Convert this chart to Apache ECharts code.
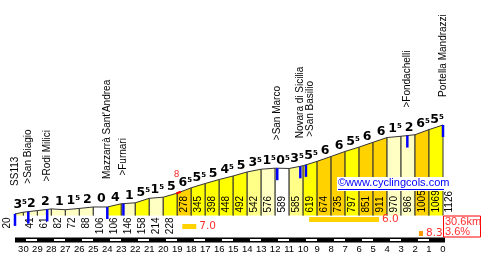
<!DOCTYPE html>
<html>
<head>
<meta charset="utf-8">
<script src="https://cdn.jsdelivr.net/npm/echarts@6/dist/echarts.min.js"></script>
<style>
html, body { margin: 0; padding: 0; background: #fff; }
#container { width: 482px; height: 255px; }
</style>
</head>
<body>
<div id="container"></div>
<script>
// km to the top at each point of the profile, and the height there
var kmMarks = [30.6, 30, 29, 28, 27, 26, 25, 24, 23, 22, 21, 20, 19, 18, 17, 16, 15, 14, 13, 12, 11, 10, 9, 8, 7, 6, 5, 4, 3, 2, 1, 0];
var elevations = [20, 41, 61, 82, 72, 88, 106, 106, 146, 158, 214, 228, 278, 345, 398, 448, 492, 542, 576, 589, 585, 619, 674, 735, 797, 851, 911, 970, 986, 1005, 1069, 1126];
// printed gradient of each km
var grades = [3.5, 2, 2, 1, 1.5, 2, 0, 4, 1, 5.5, 1.5, 5, 6.5, 5.5, 5, 4.5, 5, 3.5, 1.5, 0.5, 3.5, 5.5, 6, 6, 5.5, 6, 6, 1.5, 2, 6.5, 5.5];

// places along the road
var places = ['SS113', '>San Biagio', '>Rodi Milici', 'Mazzarrà Sant\'Andrea', '>Furnari', '>San Marco', 'Novara di Sicilia', '>San Basilio', '>Fondachelli', 'Portella Mandrazzi'];
var placeKms = [30.6, 29.65, 28.3, 24.0, 22.85, 11.85, 10.2, 9.8, 2.55, 0];

// steepest stretches (bars under the profile)
var steepFrom = [9.57, 18.64, 1.72];
var steepTo = [4.57, 17.64, 1.43];
var steepGrades = [6.0, 7.0, 8.3];

// steepest 100 m
var maxFrom = 19.07, maxTo = 18.75, maxGrade = 8;

var FONT = 'DejaVu Sans';
var SANS = 'Liberation Sans';
var RED = '#ff3030';

var myChart = echarts.init(document.getElementById('container'));

function gradeColor(g) {
    if (g < 1) return '#ffffff';
    if (g < 3) return '#ffffc4';
    if (g < 4) return '#ffff88';
    if (g < 6) return '#ffff00';
    if (g < 8) return '#ffd200';
    return '#ff9900';
}

// height on the profile at a given km (to put marks on the line)
function elevAt(km) {
    for (var i = 0; i < kmMarks.length - 1; i++) {
        if (km <= kmMarks[i] && km >= kmMarks[i + 1]) {
            var t = (kmMarks[i] - km) / (kmMarks[i] - kmMarks[i + 1]);
            return elevations[i] + t * (elevations[i + 1] - elevations[i]);
        }
    }
    return elevations[elevations.length - 1];
}

var segments = grades.map(function (g, i) {
    return [kmMarks[i], elevations[i], kmMarks[i + 1], elevations[i + 1], g];
});

var rulerWhite = [];
for (var k = 30; k >= 2; k -= 2) rulerWhite.push([k, 0]);

var option = {
    animation: false,
    grid: { left: 15, right: 39, top: 125, bottom: 39.5 },
    xAxis: {
        type: 'value',
        min: 0,
        max: 30.6,
        interval: 1,
        inverse: true,
        axisLine: { show: false },
        axisTick: { show: false },
        splitLine: { show: false },
        axisLabel: {
            margin: 28.5,
            fontFamily: SANS,
            fontSize: 9.5,
            color: '#000',
            formatter: function (v) { return Number.isInteger(v) ? String(v) : ''; }
        }
    },
    yAxis: { type: 'value', min: 0, max: 1126, show: false },
    series: [
        {   // coloured km columns
            type: 'custom',
            silent: true,
            data: segments,
            renderItem: function (params, api) {
                var p0 = api.coord([api.value(0), api.value(1)]);
                var p1 = api.coord([api.value(2), api.value(3)]);
                var b0 = api.coord([api.value(0), 0]);
                var b1 = api.coord([api.value(2), 0]);
                return {
                    type: 'group',
                    children: [
                        { type: 'polygon', shape: { points: [p0, p1, b1, b0] }, style: { fill: gradeColor(api.value(4)) } },
                        { type: 'polyline', shape: { points: [b0, p0, p1, b1] }, style: { stroke: '#333', lineWidth: 1, fill: null } }
                    ]
                };
            }
        },
        {   // gradient numbers above the profile
            type: 'custom',
            silent: true,
            data: segments,
            renderItem: function (params, api) {
                var p0 = api.coord([api.value(0), api.value(1)]);
                var p1 = api.coord([api.value(2), api.value(3)]);
                var g = api.value(4);
                var whole = Math.floor(g);
                var txt = '{a|' + whole + '}' + (g !== whole ? '{b|5}' : '');
                return {
                    type: 'text',
                    x: (p0[0] + p1[0]) / 2 + 1,
                    y: (p0[1] + p1[1]) / 2 - 2,
                    style: {
                        text: txt,
                        align: 'center',
                        verticalAlign: 'bottom',
                        rich: {
                            a: { fontFamily: FONT, fontWeight: 'bold', fontSize: 12.5, lineHeight: 12, fill: '#000' },
                            b: { fontFamily: FONT, fontWeight: 'bold', fontSize: 7, lineHeight: 7, verticalAlign: 'top', fill: '#000' }
                        }
                    }
                };
            }
        },
        {   // heights, written upward
            type: 'custom',
            silent: true,
            data: elevations.map(function (e, i) { return [kmMarks[i], e]; }),
            renderItem: function (params, api) {
                var i = params.dataIndex, n = kmMarks.length;
                var base = api.coord([0, 0])[1];
                var x;
                if (i === 0) x = api.coord([kmMarks[0], 0])[0] - 8;
                else if (i === n - 1) x = api.coord([kmMarks[i], 0])[0] + 6;
                else x = (api.coord([kmMarks[i], 0])[0] + api.coord([kmMarks[i + 1], 0])[0]) / 2;
                var h = base - api.coord([0, elevations[i]])[1];
                var inside = h > 20;
                return {
                    type: 'text',
                    x: x,
                    y: inside ? base - 3 : base + 2,
                    rotation: Math.PI / 2,
                    style: {
                        text: String(elevations[i]),
                        align: inside ? 'left' : 'right',
                        verticalAlign: 'middle',
                        fontFamily: SANS,
                        fontSize: 10,
                        fill: '#000'
                    }
                };
            }
        },
        {   // places: blue mark + name
            type: 'custom',
            silent: true,
            data: placeKms.map(function (km) { return [km, elevAt(km)]; }),
            renderItem: function (params, api) {
                var i = params.dataIndex;
                var p = api.coord([api.value(0), api.value(1)]);
                // push a name right when it would sit on the previous one
                var lx = api.coord([placeKms[0], 0])[0];
                for (var j = 1; j <= i; j++) {
                    var x = api.coord([placeKms[j], 0])[0];
                    lx = Math.max(x, lx + 10);
                }
                return {
                    type: 'group',
                    children: [
                        { type: 'line', shape: { x1: p[0], y1: p[1], x2: p[0], y2: p[1] + 12 }, style: { stroke: '#0000ff', lineWidth: 2.5 } },
                        {
                            type: 'text', x: lx, y: p[1] - 28, rotation: Math.PI / 2,
                            style: { text: places[i], align: 'left', verticalAlign: 'middle', fontFamily: SANS, fontSize: 10, fill: '#000' }
                        }
                    ]
                };
            }
        },
        {   // steepest 100 m marker
            type: 'custom',
            silent: true,
            data: [[maxFrom, elevAt(maxFrom)]],
            renderItem: function (params, api) {
                var a = api.coord([maxFrom, elevAt(maxFrom)]);
                var b = api.coord([maxTo, elevAt(maxTo)]);
                return {
                    type: 'group',
                    children: [
                        { type: 'line', shape: { x1: a[0], y1: a[1], x2: b[0], y2: b[1] }, style: { stroke: '#ff0000', lineWidth: 2 } },
                        {
                            type: 'text', x: (a[0] + b[0]) / 2 - 2, y: (a[1] + b[1]) / 2 - 18,
                            style: { text: String(maxGrade), align: 'center', verticalAlign: 'middle', fontFamily: FONT, fontSize: 9, fill: RED }
                        }
                    ]
                };
            }
        },
        {   // steepest stretches
            type: 'custom',
            silent: true,
            data: steepGrades.map(function (g, i) { return [steepFrom[i], 0]; }),
            renderItem: function (params, api) {
                var i = params.dataIndex;
                var base = api.coord([0, 0])[1];
                var len = steepFrom[i] - steepTo[i];
                var y = len >= 5 ? base + 4 : (len >= 1 ? base + 11 : base + 18);
                var x0 = api.coord([steepFrom[i], 0])[0];
                var x1 = api.coord([steepTo[i], 0])[0];
                return {
                    type: 'group',
                    children: [
                        { type: 'rect', shape: { x: x0, y: y - 2.5, width: x1 - x0, height: 5 }, style: { fill: gradeColor(steepGrades[i]) } },
                        {
                            type: 'text', x: x1 + 3, y: y,
                            style: { text: steepGrades[i].toFixed(1), align: 'left', verticalAlign: 'middle', fontFamily: FONT, fontSize: 10.5, fill: RED }
                        }
                    ]
                };
            }
        },
        {   // black ruler
            type: 'custom',
            silent: true,
            data: [[kmMarks[0], 0]],
            renderItem: function (params, api) {
                var base = api.coord([0, 0])[1];
                var x0 = api.coord([kmMarks[0], 0])[0];
                var x1 = api.coord([0, 0])[0] + 2;
                return { type: 'rect', shape: { x: Math.round(x0), y: base + 22, width: Math.round(x1 - x0), height: 5 }, style: { fill: '#000' } };
            }
        },
        {   // white blocks of the ruler
            type: 'custom',
            silent: true,
            data: rulerWhite,
            renderItem: function (params, api) {
                var base = api.coord([0, 0])[1];
                var a = api.coord([api.value(0) - 0.2, 0])[0];
                var b = api.coord([api.value(0) - 1, 0])[0];
                return { type: 'rect', shape: { x: Math.round(a), y: base + 23.5, width: Math.round(b - a), height: 2 }, style: { fill: '#fff' } };
            }
        },
        {   // length and mean gradient box
            type: 'custom',
            silent: true,
            data: [[0, 0]],
            renderItem: function (params, api) {
                var p = api.coord([0, 0]);
                var len = kmMarks[0] - kmMarks[kmMarks.length - 1];
                var avg = (elevations[elevations.length - 1] - elevations[0]) / (len * 10);
                return {
                    type: 'group',
                    children: [
                        { type: 'rect', shape: { x: p[0] + 0.5, y: p[1] + 0.5, width: 37, height: 21 }, style: { fill: '#fff', stroke: '#ff0000', lineWidth: 1 } },
                        {
                            type: 'text', x: p[0] + 2, y: p[1] + 11,
                            style: {
                                text: len.toFixed(1) + 'km\n' + avg.toFixed(1) + '%',
                                align: 'left', verticalAlign: 'middle', lineHeight: 10,
                                fontFamily: SANS, fontSize: 11, fill: RED
                            }
                        }
                    ]
                };
            }
        }
    ],
    graphic: [
        { type: 'rect', left: 337, top: 177, shape: { width: 109, height: 14 }, style: { fill: '#fff' }, z: 10 },
        { type: 'text', left: 338, top: 177, style: { text: '©www.cyclingcols.com', fontFamily: SANS, fontSize: 11, fill: '#0000ff' }, z: 11 },
        { type: 'rect', left: 338, top: 189, shape: { width: 106, height: 1 }, style: { fill: '#0000ff' }, z: 11 }
    ]
};

myChart.setOption(option);
</script>
</body>
</html>
